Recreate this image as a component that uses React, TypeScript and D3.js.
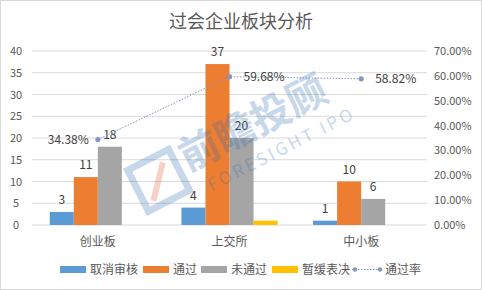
import React from "react";
import * as d3 from "d3";

const categories = ["创业板", "上交所", "中小板"];
const seriesNames = ["取消审核", "通过", "未通过", "暂缓表决"];
const cancelled = [3, 4, 1];
const passed = [11, 37, 10];
const failed = [18, 20, 6];
const deferred = [0, 1, 0];
const passRate = [0.3438, 0.5968, 0.5882];
const leftTicks = [0, 5, 10, 15, 20, 25, 30, 35, 40];
const rightTicks = [0, 0.1, 0.2, 0.3, 0.4, 0.5, 0.6, 0.7];
const lineName = "通过率";

const colors = ["#5B9BD5", "#ED7D31", "#A5A5A5", "#FFC000"];
const lineColor = "#8497C0";
const W = 482, H = 290;
const FONT = "'Noto Sans CJK SC', 'Microsoft YaHei', sans-serif";

export default function App() {
  const series = [cancelled, passed, failed, deferred];
  const x0 = d3.scaleBand<string>().domain(categories).range([32, 427]).padding(0);
  const bw = x0.bandwidth();
  const x1 = d3.scaleBand<string>().domain(seriesNames).range([bw * 0.135, bw * 0.865]).padding(0);
  const y = d3.scaleLinear().domain([0, 40]).range([225, 51]);
  const yR = d3.scaleLinear().domain([0, 0.7]).range([225, 51]);
  const fmtPct = d3.format(".2%");
  const cx = (c: string) => (x0(c) as number) + bw / 2;
  const lineGen = d3.line<number>().x((_, i) => cx(categories[i])).y((d) => yR(d));

  const legendItems = [
    { name: seriesNames[0], x: 60 },
    { name: seriesNames[1], x: 143 },
    { name: seriesNames[2], x: 201 },
    { name: seriesNames[3], x: 272 },
  ];

  return (
    <svg width={W} height={H} style={{ position: "absolute", left: 0, top: 0, background: "#fff" }} fontFamily={FONT}>
      <rect x={0.5} y={0.5} width={W - 1} height={H - 1} fill="#fff" stroke="#D9D9D9" />
      <text x={241} y={28} textAnchor="middle" fontSize={18} fill="#595959">过会企业板块分析</text>

      {leftTicks.map((t) => (
        <g key={"g" + t}>
          <line x1={32} x2={427} y1={y(t)} y2={y(t)} stroke="#D9D9D9" strokeWidth={1} />
          <text x={16} y={y(t) + 4} textAnchor="middle" fontSize={11} fill="#595959">{t}</text>
        </g>
      ))}
      {rightTicks.map((t) => (
        <text key={"r" + t} x={434} y={yR(t) + 4} fontSize={11} fill="#595959">{fmtPct(t)}</text>
      ))}

      {categories.map((c, ci) => (
        <g key={c}>
          {series.map((s, si) => {
            const v = s[ci];
            if (v <= 0) return null;
            const bx = (x0(c) as number) + (x1(seriesNames[si]) as number);
            return (
              <g key={si}>
                <rect x={bx} y={y(v)} width={x1.bandwidth()} height={y(0) - y(v)} fill={colors[si]} />
                {si < 3 && (
                  <text x={bx + x1.bandwidth() / 2} y={y(v) - 8} textAnchor="middle" fontSize={12} fill="#404040">{v}</text>
                )}
              </g>
            );
          })}
          <text x={cx(c)} y={246} textAnchor="middle" fontSize={12} fill="#595959">{c}</text>
        </g>
      ))}

      {/* watermark */}
      <g opacity={0.26} transform="translate(188,172) rotate(-27)">
        <rect x={-53} y={-29} width={46} height={46} fill="none" stroke="#2F6DB5" strokeWidth={7} />
        <path d="M -44 10 L -18 -20" stroke="#E0502A" strokeWidth={6} />
        <text x={0} y={0} fontSize={40} fontWeight={700} fill="#2F6DB5">前瞻投顾</text>
        <text x={12} y={28} fontSize={17} letterSpacing={3} fill="#2F6DB5">FORESIGHT IPO</text>
      </g>

      <path d={lineGen(passRate) || ""} fill="none" stroke={lineColor} strokeWidth={1} strokeDasharray="1.5,1.5" />
      {passRate.map((v, i) => (
        <g key={"p" + i}>
          <circle cx={cx(categories[i])} cy={yR(v)} r={2.6} fill={lineColor} />
          <text
            x={i === 0 ? cx(categories[i]) - 9 : cx(categories[i]) + 14}
            y={yR(v) + 4}
            textAnchor={i === 0 ? "end" : "start"}
            fontSize={12}
            fill="#404040"
          >{fmtPct(v)}</text>
        </g>
      ))}

      {legendItems.map((it, i) => (
        <g key={it.name}>
          <rect x={it.x} y={266} width={26} height={7} fill={colors[i]} />
          <text x={it.x + 30} y={274} fontSize={12} fill="#595959">{it.name}</text>
        </g>
      ))}
      <line x1={352} x2={382} y1={269.5} y2={269.5} stroke={lineColor} strokeWidth={1} strokeDasharray="1.5,1.5" />
      <circle cx={355} cy={269.5} r={2.2} fill={lineColor} />
      <circle cx={380} cy={269.5} r={2.2} fill={lineColor} />
      <text x={385} y={274} fontSize={12} fill="#595959">{lineName}</text>
    </svg>
  );
}
